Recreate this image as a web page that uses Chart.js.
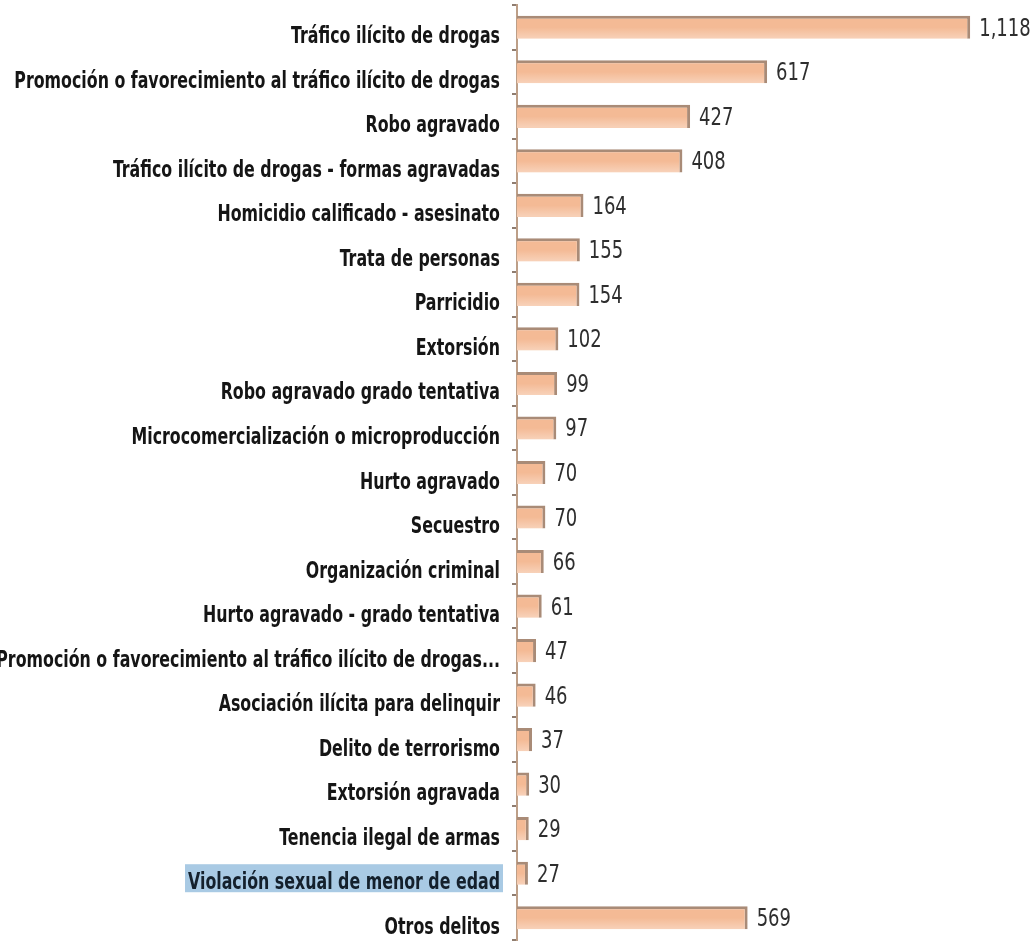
<!DOCTYPE html>
<html>
<head>
<meta charset="utf-8">
<script src="https://cdn.jsdelivr.net/npm/chart.js@4.4.0/dist/chart.umd.min.js"></script>
<style>
  html, body { margin: 0; padding: 0; background: #ffffff; }
  #wrap { width: 1036px; height: 942px; position: relative; }
</style>
</head>
<body>
<div id="wrap"><canvas id="c"></canvas></div>
<script>
const categories = [
  "Tráfico ilícito de drogas",
  "Promoción o favorecimiento al tráfico ilícito de drogas",
  "Robo agravado",
  "Tráfico ilícito de drogas - formas agravadas",
  "Homicidio calificado - asesinato",
  "Trata de personas",
  "Parricidio",
  "Extorsión",
  "Robo agravado grado tentativa",
  "Microcomercialización o microproducción",
  "Hurto agravado",
  "Secuestro",
  "Organización criminal",
  "Hurto agravado - grado tentativa",
  "Promoción o favorecimiento al tráfico ilícito de drogas...",
  "Asociación ilícita para delinquir",
  "Delito de terrorismo",
  "Extorsión agravada",
  "Tenencia ilegal de armas",
  "Violación sexual de menor de edad",
  "Otros delitos"
];
const values = [1118, 617, 427, 408, 164, 155, 154, 102, 99, 97, 70, 70, 66, 61, 47, 46, 37, 30, 29, 27, 569];
const highlightedCategory = "Violación sexual de menor de edad";

const FAMILY = '"DejaVu Sans Condensed", "Liberation Sans", sans-serif';
const LABEL_FONT = 'bold 23px ' + FAMILY;
const LABEL_SCALE_X = 0.765;
const VALUE_FONT = '25px ' + FAMILY;
const VALUE_SCALE_X = 0.8;

// draws the category labels (condensed) and the highlight behind one of them
const categoryLabelPlugin = {
  id: 'categoryLabels',
  afterDraw(chart) {
    const ctx = chart.ctx;
    const y = chart.scales.y;
    const xRight = y.right - 17;
    const labels = y.getLabels();
    ctx.save();
    ctx.font = LABEL_FONT;
    ctx.textBaseline = 'alphabetic';
    ctx.textAlign = 'right';
    labels.forEach((lab, i) => {
      const py = y.getPixelForValue(i) + 16;
      const w = ctx.measureText(lab).width * LABEL_SCALE_X;
      if (lab === highlightedCategory) {
        ctx.fillStyle = '#a9cae4';
        ctx.fillRect(xRight - w - 3, py - 25, w + 6, 28);
      }
      ctx.save();
      ctx.translate(xRight, py);
      ctx.scale(LABEL_SCALE_X, 1);
      ctx.fillStyle = lab === highlightedCategory ? '#14202c' : '#151515';
      ctx.fillText(lab, 0, 0);
      ctx.restore();
    });
    ctx.restore();
  }
};

// soft lighter lower half on each bar + value labels
const valueLabelPlugin = {
  id: 'valueLabels',
  afterDatasetsDraw(chart) {
    const ctx = chart.ctx;
    const meta = chart.getDatasetMeta(0);
    ctx.save();
    meta.data.forEach((bar) => {
      const h = bar.height;
      const top = bar.y;
      const bottom = bar.y + h / 2;
      const g = ctx.createLinearGradient(0, top, 0, bottom);
      g.addColorStop(0, 'rgba(255,255,255,0)');
      g.addColorStop(1, 'rgba(255,255,255,0.35)');
      ctx.fillStyle = g;
      ctx.fillRect(bar.base, top, Math.max(0, bar.x - bar.base - 3), bottom - top);
    });
    ctx.font = VALUE_FONT;
    ctx.fillStyle = '#2e2e2e';
    ctx.textBaseline = 'middle';
    ctx.textAlign = 'left';
    meta.data.forEach((bar, i) => {
      ctx.save();
      ctx.translate(bar.x + 9, bar.y + 2);
      ctx.scale(VALUE_SCALE_X, 1);
      ctx.fillText(values[i].toLocaleString('en-US'), 0, 0);
      ctx.restore();
    });
    ctx.restore();
  }
};

new Chart(document.getElementById('c'), {
  type: 'bar',
  data: {
    labels: categories,
    datasets: [{
      data: values,
      backgroundColor: '#f4ba95',
      borderColor: '#a98b77',
      borderWidth: { top: 3, right: 3, bottom: 0, left: 0 },
      borderSkipped: false,
      barPercentage: 0.52,
      categoryPercentage: 1.0
    }]
  },
  options: {
    indexAxis: 'y',
    responsive: true,
    maintainAspectRatio: false,
    animation: false,
    layout: { padding: { top: 5, bottom: 2, left: 0, right: 5 } },
    plugins: { legend: { display: false }, tooltip: { enabled: false } },
    scales: {
      x: {
        display: false,
        min: 0,
        max: 1268
      },
      y: {
        afterFit(scale) { scale.width = 517; scale.paddingTop = 0; scale.paddingBottom = 0; },
        border: { display: true, color: '#bd9f88', width: 2 },
        grid: {
          offset: true,
          drawOnChartArea: false,
          drawTicks: true,
          tickLength: 5,
          color: '#8f7d70',
          lineWidth: 2
        },
        ticks: {
          display: false,
          autoSkip: false
        }
      }
    }
  },
  plugins: [categoryLabelPlugin, valueLabelPlugin]
});
</script>
</body>
</html>
